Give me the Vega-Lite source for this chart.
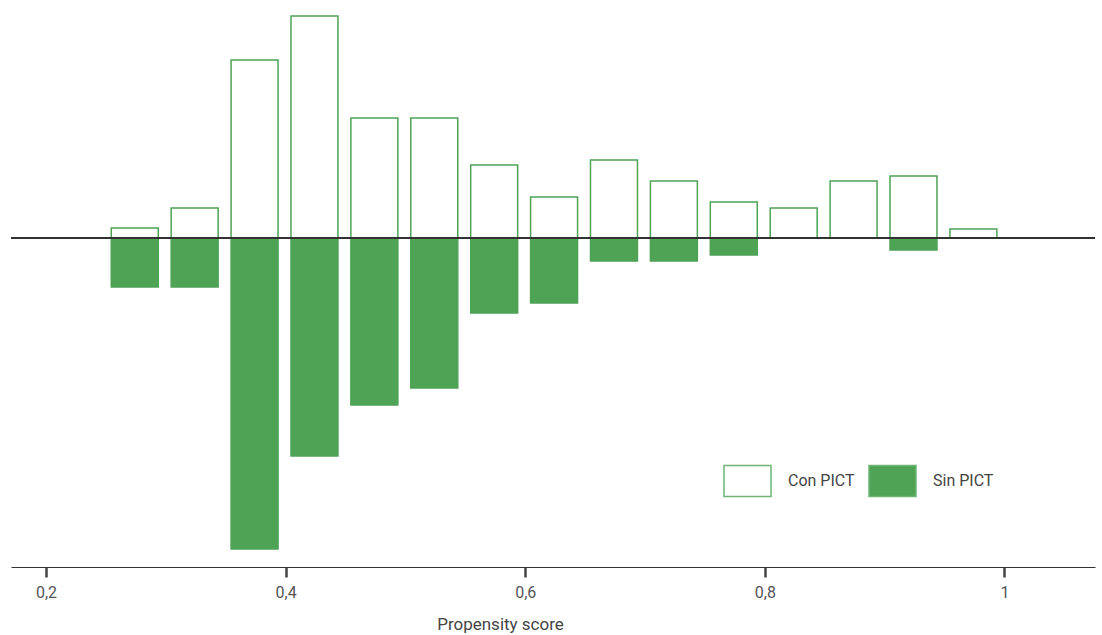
{
  "$schema": "https://vega.github.io/schema/vega-lite/v6.json",
  "autosize": "none",
  "width": 1084,
  "height": 567,
  "padding": {"left": 11, "top": 0, "right": 7, "bottom": 68},
  "background": "white",
  "config": {
    "view": {"stroke": null},
    "font": "Roboto",
    "locale": {"number": {"decimal": ",", "thousands": ".", "grouping": [3], "currency": ["", " €"]}}
  },
  "data": {
    "values": [
      {"lo": 0.2545, "hi": 0.2937, "grupo": "Con PICT", "n": 10},
      {"lo": 0.3045, "hi": 0.3437, "grupo": "Con PICT", "n": 30},
      {"lo": 0.3545, "hi": 0.3937, "grupo": "Con PICT", "n": 178},
      {"lo": 0.4045, "hi": 0.4437, "grupo": "Con PICT", "n": 222},
      {"lo": 0.4545, "hi": 0.4937, "grupo": "Con PICT", "n": 120},
      {"lo": 0.5045, "hi": 0.5437, "grupo": "Con PICT", "n": 120},
      {"lo": 0.5545, "hi": 0.5937, "grupo": "Con PICT", "n": 73},
      {"lo": 0.6045, "hi": 0.6437, "grupo": "Con PICT", "n": 41},
      {"lo": 0.6545, "hi": 0.6937, "grupo": "Con PICT", "n": 78},
      {"lo": 0.7045, "hi": 0.7437, "grupo": "Con PICT", "n": 57},
      {"lo": 0.7545, "hi": 0.7937, "grupo": "Con PICT", "n": 36},
      {"lo": 0.8045, "hi": 0.8437, "grupo": "Con PICT", "n": 30},
      {"lo": 0.8545, "hi": 0.8937, "grupo": "Con PICT", "n": 57},
      {"lo": 0.9045, "hi": 0.9437, "grupo": "Con PICT", "n": 62},
      {"lo": 0.9545, "hi": 0.9937, "grupo": "Con PICT", "n": 9},
      {"lo": 0.2545, "hi": 0.2937, "grupo": "Sin PICT", "n": -49},
      {"lo": 0.3045, "hi": 0.3437, "grupo": "Sin PICT", "n": -49},
      {"lo": 0.3545, "hi": 0.3937, "grupo": "Sin PICT", "n": -311},
      {"lo": 0.4045, "hi": 0.4437, "grupo": "Sin PICT", "n": -218},
      {"lo": 0.4545, "hi": 0.4937, "grupo": "Sin PICT", "n": -167},
      {"lo": 0.5045, "hi": 0.5437, "grupo": "Sin PICT", "n": -150},
      {"lo": 0.5545, "hi": 0.5937, "grupo": "Sin PICT", "n": -75},
      {"lo": 0.6045, "hi": 0.6437, "grupo": "Sin PICT", "n": -65},
      {"lo": 0.6545, "hi": 0.6937, "grupo": "Sin PICT", "n": -23},
      {"lo": 0.7045, "hi": 0.7437, "grupo": "Sin PICT", "n": -23},
      {"lo": 0.7545, "hi": 0.7937, "grupo": "Sin PICT", "n": -17},
      {"lo": 0.9045, "hi": 0.9437, "grupo": "Sin PICT", "n": -12}
    ]
  },
  "layer": [
    {
      "mark": {"type": "rect", "stroke": "#4ea355", "strokeWidth": 1.5},
      "encoding": {
        "x": {
          "field": "lo", "type": "quantitative",
          "scale": {"domain": [0.1708, 1.0756], "nice": false, "zero": false},
          "axis": {
            "values": [0.2, 0.4, 0.6, 0.8, 1],
            "format": "~g",
            "grid": false,
            "domainColor": "#333333",
            "domainWidth": 1.2,
            "tickColor": "#444444",
            "tickWidth": 2.5,
            "tickSize": 10,
            "labelPadding": 7,
            "labelFontSize": 16,
            "labelColor": "#555555",
            "title": "Propensity score",
            "titleFontSize": 17,
            "titleFontWeight": "normal",
            "titleColor": "#444444",
            "titlePadding": 16,
            "titleX": 489,
            "titleAnchor": "middle"
          }
        },
        "x2": {"field": "hi"},
        "y": {
          "field": "n", "type": "quantitative",
          "scale": {"domain": [-329, 238], "nice": false},
          "axis": null
        },
        "y2": {"datum": 0},
        "fill": {
          "field": "grupo", "type": "nominal",
          "scale": {"domain": ["Con PICT", "Sin PICT"], "range": ["#ffffff", "#4ea355"]},
          "legend": {
            "title": null,
            "orient": "none",
            "direction": "horizontal",
            "legendX": 712,
            "legendY": 456,
            "padding": 0,
            "symbolType": "M-1,-0.66L1,-0.66L1,0.66L-1,0.66Z",
            "symbolSize": 2209,
            "symbolStrokeColor": "#6fb576",
            "symbolStrokeWidth": 1.5,
            "symbolOpacity": 1,
            "labelOffset": 16,
            "labelFontSize": 16,
            "labelColor": "#444444",
            "labelBaseline": "middle",
            "columnPadding": 11
          }
        }
      }
    },
    {
      "mark": {"type": "rule", "color": "#333333", "strokeWidth": 1},
      "encoding": {"y": {"datum": 0}}
    }
  ]
}
